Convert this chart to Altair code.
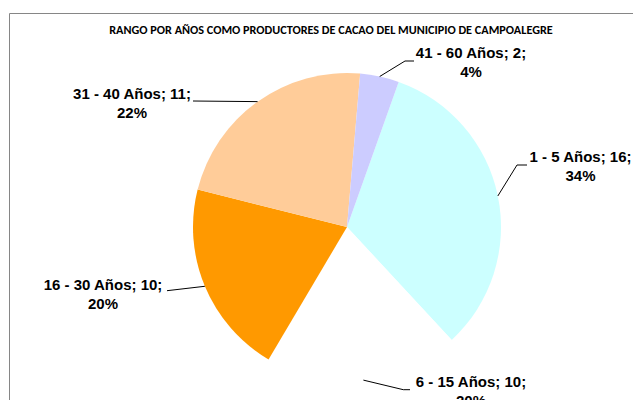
import math
import altair as alt
import pandas as pd

# ---------------- data ----------------
categories = ["1 - 5 Años", "6 - 15 Años", "16 - 30 Años", "31 - 40 Años", "41 - 60 Años"]
values = [16, 10, 10, 11, 2]
percent_labels = ["34%", "20%", "20%", "22%", "4%"]
slice_colors = ["#CCFFFF", "#FFFFFF", "#FF9900", "#FFCC99", "#CCCCFF"]
title_text = "RANGO POR AÑOS COMO  PRODUCTORES DE CACAO DEL MUNICIPIO  DE CAMPOALEGRE"

# ---------------- layout ----------------
W, H = 624, 387          # plot area (frame continues past the page edge)
CX, CY = 338, 214        # pie centre inside plot area
R = 154                  # pie radius
START = math.radians(19.6)

# first-line position of each label relative to the pie centre (px)
label_offsets = {
    "1 - 5 Años": (233.5, -70.3),
    "6 - 15 Años": (124, 154.7),
    "16 - 30 Años": (-244, 58),
    "31 - 40 Años": (-215, -133),
    "41 - 60 Años": (124, -173.7),
}
# leader line points after the point on the slice edge (relative px)
leader_tails = {
    "1 - 5 Años": [(170, -62), (180, -62)],
    "6 - 15 Años": [(56.3, 162.7), (63, 162.7)],
    "16 - 30 Años": [(-180, 63.7)],
    "31 - 40 Años": [(-154, -126)],
    "41 - 60 Años": [(58, -166), (67, -166)],
}

total = sum(values)
pie_df = pd.DataFrame({"cat": categories, "value": values, "idx": list(range(len(values)))})

lab_rows = []
line_rows = []
cum = 0
for c, v, p in zip(categories, values, percent_labels):
    mid = START + 2 * math.pi * (cum + v / 2) / total
    cum += v
    lx, ly = label_offsets[c]
    lab_rows.append({"cat": c, "x": lx, "y": ly, "label": f"{c}; {v};\n{p}"})
    pts = [(R * math.sin(mid), -R * math.cos(mid))] + leader_tails[c]
    for k, (px, py) in enumerate(pts):
        line_rows.append({"cat": c, "ord": k, "x": px, "y": py})
lab_df = pd.DataFrame(lab_rows)
line_df = pd.DataFrame(line_rows)

xs = alt.Scale(domain=[-CX, W - CX], nice=False, zero=False)
ys = alt.Scale(domain=[-CY, H - CY], nice=False, zero=False, reverse=True)

frame = alt.Chart(pd.DataFrame({"f": [0]})).mark_rect(
    filled=False, stroke="#868686", strokeWidth=1
).encode(x=alt.value(0.5), y=alt.value(0.5), x2=alt.value(W + 30), y2=alt.value(H + 30))

arcs = alt.Chart(pie_df).mark_arc(radius=R).encode(
    theta=alt.Theta("value:Q", stack=True,
                    scale=alt.Scale(range=[START, START + 2 * math.pi])),
    color=alt.Color("cat:N", scale=alt.Scale(domain=categories, range=slice_colors), legend=None),
    order=alt.Order("idx:Q"),
    x=alt.value(CX),
    y=alt.value(CY),
)

leaders = alt.Chart(line_df).mark_line(color="black", strokeWidth=1).encode(
    x=alt.X("x:Q", scale=xs, axis=None),
    y=alt.Y("y:Q", scale=ys, axis=None),
    detail="cat:N",
    order="ord:Q",
)

labels = alt.Chart(lab_df).mark_text(
    font="Liberation Sans, Arial, sans-serif", fontWeight="bold", fontSize=15,
    lineBreak="\n", lineHeight=19, align="center", baseline="middle", color="black",
).encode(
    x=alt.X("x:Q", scale=xs, axis=None),
    y=alt.Y("y:Q", scale=ys, axis=None),
    text="label:N",
)

title = alt.Chart(pd.DataFrame({"t": [title_text]})).mark_text(
    font="Carlito, Lato, sans-serif", fontWeight="bold", fontSize=12.2,
    align="center", baseline="middle", color="black",
).encode(text="t:N", x=alt.value(322), y=alt.value(17))

chart = alt.layer(frame, arcs, leaders, labels, title).properties(
    width=W, height=H,
    padding={"left": 1, "top": 5, "right": 0, "bottom": 0},
    autosize="none",
    background="white",
).configure_view(stroke=None)

chart.save("out.html", embed_options={"renderer": "svg", "actions": False})
